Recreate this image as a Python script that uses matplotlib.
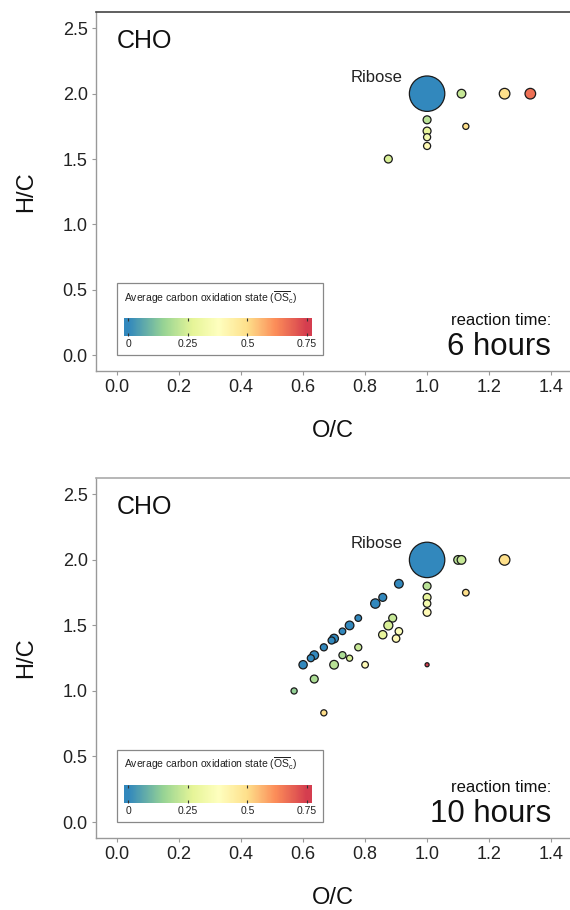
import numpy as np
import matplotlib
matplotlib.use("Agg")
import matplotlib.pyplot as plt
from matplotlib.colors import LinearSegmentedColormap, Normalize
from matplotlib.patches import Rectangle

plt.rcParams["font.family"] = ["Liberation Sans", "DejaVu Sans"]
plt.rcParams["mathtext.fontset"] = "custom"
plt.rcParams["mathtext.rm"] = "Liberation Sans"
plt.rcParams["mathtext.it"] = "Liberation Sans"

# ---- 6 h reaction time ----
oc_6h = [1.0, 1.111, 1.25, 1.333, 1.0, 1.0, 1.0, 1.0, 1.125, 0.875]
hc_6h = [2.0, 2.0, 2.0, 2.0, 1.8, 1.714, 1.667, 1.6, 1.75, 1.5]
abund_6h = [100, 6, 9, 9, 5, 5, 4, 4, 3, 5]

# ---- 10 h reaction time ----
oc_10h = [1.0, 1.1, 1.111, 1.25, 1.125, 1.0, 1.0, 1.0, 1.0, 1.0,
          0.909, 0.857, 0.833, 0.778, 0.75, 0.727, 0.7, 0.692, 0.667, 0.636, 0.625, 0.6,
          0.889, 0.875, 0.909, 0.9, 0.857, 0.778, 0.727, 0.75, 0.7, 0.8, 0.636, 0.571, 0.667]
hc_10h = [2.0, 2.0, 2.0, 2.0, 1.75, 1.8, 1.714, 1.667, 1.6, 1.2,
          1.818, 1.714, 1.667, 1.556, 1.5, 1.455, 1.4, 1.385, 1.333, 1.273, 1.25, 1.2,
          1.556, 1.5, 1.455, 1.4, 1.429, 1.333, 1.273, 1.25, 1.2, 1.2, 1.091, 1.0, 0.833]
abund_10h = [100, 6, 6, 9, 3.5, 5, 5, 4.5, 5, 1.3,
             6, 5, 7, 3.5, 6, 3.5, 6, 4, 4, 6, 4, 5.5,
             5, 6.5, 4.5, 4.5, 5.5, 4, 4, 3, 6, 3.5, 5, 3, 3]

panels = [("6 hours", oc_6h, hc_6h, abund_6h),
          ("10 hours", oc_10h, hc_10h, abund_10h)]

x_ticks = [0.0, 0.2, 0.4, 0.6, 0.8, 1.0, 1.2, 1.4]
y_ticks = [0.0, 0.5, 1.0, 1.5, 2.0, 2.5]
cbar_ticks = [0, 0.25, 0.5, 0.75]
cbar_labels = ["0", "0.25", "0.5", "0.75"]

spectral_nodes = [(0.0, "#3288BD"), (0.15 / 0.75, "#99D594"), (0.27 / 0.75, "#E6F598"),
                  (0.38 / 0.75, "#FFFFBF"), (0.5 / 0.75, "#FEE08B"),
                  (0.62 / 0.75, "#FC8D59"), (1.0, "#D53E4F")]
cmap = LinearSegmentedColormap.from_list("spectral_r", spectral_nodes)
norm = Normalize(0.0, 0.75)

fig = plt.figure(figsize=(5.7, 9.1), dpi=100)
axes_rects = [[96 / 570, 1 - 371 / 910, 474 / 570, 359 / 910],
              [96 / 570, 1 - 838 / 910, 474 / 570, 360 / 910]]
top_spine_colors = ["#444444", "#aaaaaa"]

for (label, oc, hc, ab), rect, tcol in zip(panels, axes_rects, top_spine_colors):
    ax = fig.add_axes(rect)
    oc = np.asarray(oc)
    hc = np.asarray(hc)
    osc = 2 * oc - hc  # average carbon oxidation state
    ax.scatter(oc, hc, s=np.asarray(ab) * 6.5, c=osc, cmap=cmap, norm=norm,
               edgecolors="#1a1a1a", linewidths=0.9, zorder=3)

    ax.set_xlim(-0.068, 1.461)
    ax.set_ylim(-0.122, 2.625)
    ax.set_xticks(x_ticks)
    ax.set_yticks(y_ticks)
    ax.set_xticklabels([f"{v:.1f}" for v in x_ticks])
    ax.set_yticklabels([f"{v:.1f}" for v in y_ticks])
    ax.tick_params(labelsize=13, colors="#999999", labelcolor="#222222",
                   length=3, width=0.8, pad=3)
    for side in ("left", "bottom"):
        ax.spines[side].set_color("#999999")
        ax.spines[side].set_linewidth(1.0)
    ax.spines["top"].set_color(tcol)
    ax.spines["top"].set_linewidth(1.2)
    ax.spines["right"].set_visible(False)
    ax.set_xlabel("O/C", fontsize=17, labelpad=17, color="#111111")
    ax.set_ylabel("H/C", fontsize=17, labelpad=18, color="#111111")

    ax.text(0.0, 2.35, "CHO", fontsize=18, ha="left", va="baseline", color="#111111")
    ax.text(0.92, 2.09, "Ribose", fontsize=12, ha="right", va="baseline", color="#222222")
    ax.text(1.40, 0.23, "reaction time:", fontsize=12, ha="right", va="baseline",
            color="#111111")
    ax.text(1.40, 0.0, label, fontsize=22.5, ha="right", va="baseline", color="#111111")

    # colour legend box
    ax.add_patch(Rectangle((0.0443, 0.0446), 0.435, 0.2, transform=ax.transAxes,
                           facecolor="white", edgecolor="#888888", linewidth=0.9,
                           zorder=4))
    ax.text(0.059, 0.205,
            r"Average carbon oxidation state ($\overline{\mathrm{OS}}_{\mathrm{c}}$)",
            transform=ax.transAxes, fontsize=7.5, ha="left", va="center",
            color="#222222", zorder=5)

    fb = ax.get_position()
    bx0 = fb.x0 + 0.0591 * fb.width
    bx1 = fb.x0 + 0.4557 * fb.width
    by0 = fb.y0 + 0.0975 * fb.height
    by1 = fb.y0 + 0.1476 * fb.height
    cax = fig.add_axes([bx0, by0, bx1 - bx0, by1 - by0], zorder=6)
    lo, hi = -0.0168, 0.771
    grad = np.linspace(lo, hi, 300).reshape(1, -1)
    cax.imshow(grad, cmap=cmap, norm=norm, aspect="auto",
               extent=[lo, hi, 0, 1], interpolation="bilinear")
    cax.set_xlim(lo, hi)
    cax.set_ylim(0, 1)
    cax.set_yticks([])
    cax.set_xticks(cbar_ticks)
    cax.set_xticklabels(cbar_labels)
    cax.tick_params(axis="x", direction="in", length=2.5, width=0.8, color="#333333",
                    top=True, labelsize=7.5, labelcolor="#222222", pad=2.5)
    for sp in cax.spines.values():
        sp.set_visible(False)

fig.savefig("out.png", dpi=100)
